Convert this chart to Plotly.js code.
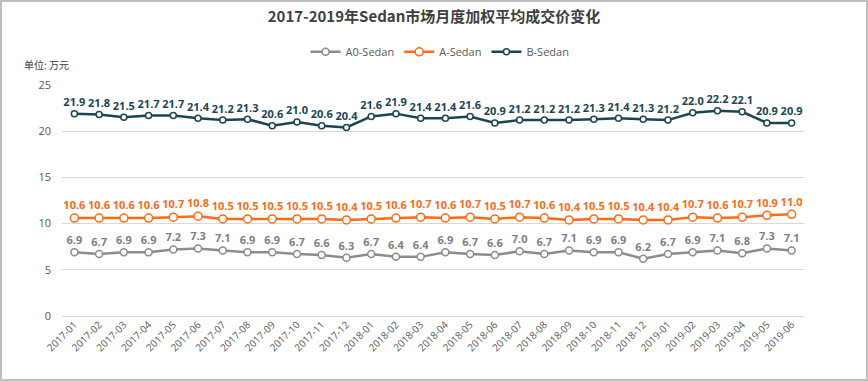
<!DOCTYPE html>
<html>
<head>
<meta charset="utf-8">
<script src="https://cdn.plot.ly/plotly-3.0.1.min.js"></script>
<style>
  html, body { margin: 0; padding: 0; background: #fff; }
  #wrap { position: relative; width: 868px; height: 381px; }
  #chart { width: 868px; height: 381px; }
  #frame { position: absolute; left: 0; top: 0; width: 868px; height: 381px; box-sizing: border-box; border: 2px solid #bfbfbf; pointer-events: none; }
</style>
</head>
<body>
<div id="wrap"><div id="chart"></div><div id="frame"></div></div>
<script>
const months = ["2017-01","2017-02","2017-03","2017-04","2017-05","2017-06","2017-07","2017-08","2017-09","2017-10","2017-11","2017-12",
  "2018-01","2018-02","2018-03","2018-04","2018-05","2018-06","2018-07","2018-08","2018-09","2018-10","2018-11","2018-12",
  "2019-01","2019-02","2019-03","2019-04","2019-05","2019-06"];
const a0Sedan = [6.9,6.7,6.9,6.9,7.2,7.3,7.1,6.9,6.9,6.7,6.6,6.3,6.7,6.4,6.4,6.9,6.7,6.6,7.0,6.7,7.1,6.9,6.9,6.2,6.7,6.9,7.1,6.8,7.3,7.1];
const aSedan = [10.6,10.6,10.6,10.6,10.7,10.8,10.5,10.5,10.5,10.5,10.5,10.4,10.5,10.6,10.7,10.6,10.7,10.5,10.7,10.6,10.4,10.5,10.5,10.4,10.4,10.7,10.6,10.7,10.9,11.0];
const bSedan = [21.9,21.8,21.5,21.7,21.7,21.4,21.2,21.3,20.6,21.0,20.6,20.4,21.6,21.9,21.4,21.4,21.6,20.9,21.2,21.2,21.2,21.3,21.4,21.3,21.2,22.0,22.2,22.1,20.9,20.9];
const yTicks = [0,5,10,15,20,25];

const numFont = "Open Sans, Noto Sans, sans-serif";
function series(name, y, color, labelColor, msize) {
  return {
    type: 'scatter', mode: 'lines+markers+text', name: name,
    x: months, y: y,
    line: {color: color, width: 2.5},
    marker: {symbol: 'circle', size: msize, color: '#ffffff', line: {color: color, width: 1.5}},
    texttemplate: '%{y:.1f}', textposition: 'top center',
    textfont: {family: numFont, size: 11, color: labelColor, weight: 'bold'},
    cliponaxis: false, hoverinfo: 'x+y'
  };
}
const data = [
  series('A0-Sedan', a0Sedan, '#8c8c8c', '#7f7f7f', 7),
  series('A-Sedan', aSedan, '#ff6a13', '#ff6a13', 8),
  series('B-Sedan', bSedan, '#1b4553', '#1b4553', 6)
];
const layout = {
  width: 868, height: 381,
  margin: {l: 62, r: 64, t: 85, b: 65},
  paper_bgcolor: '#ffffff', plot_bgcolor: '#ffffff',
  font: {family: "Noto Sans CJK SC, sans-serif", color: '#595959'},
  title: {text: '2017-2019年Sedan市场月度加权平均成交价变化', x: 0.5, xref: 'container', xanchor: 'center',
    y: 0.955, yref: 'container', yanchor: 'middle',
    font: {family: "Noto Sans CJK SC, sans-serif", size: 15, color: '#404040', weight: 'bold'}},
  showlegend: true,
  legend: {orientation: 'h', xref: 'container', yref: 'container', x: 0.507, xanchor: 'center', y: 0.864, yanchor: 'middle',
    font: {family: numFont, size: 11, color: '#595959'}, itemwidth: 30, traceorder: 'normal'},
  xaxis: {type: 'category', range: [-0.5, 29.5], showgrid: false, zeroline: false, showline: false,
    tickangle: -45, tickfont: {family: numFont, size: 10, color: '#595959'}, ticks: '', fixedrange: true},
  yaxis: {range: [0, 25], tickvals: yTicks, ticktext: yTicks.map(String), showgrid: true, gridcolor: '#d9d9d9', gridwidth: 1,
    zeroline: true, zerolinecolor: '#d9d9d9', zerolinewidth: 1, showline: false, ticks: '',
    tickfont: {family: numFont, size: 11, color: '#595959'}, ticklabelstandoff: 10, fixedrange: true},
  annotations: [{text: '单位: 万元', xref: 'paper', yref: 'paper', x: 0, y: 1, xanchor: 'left', yanchor: 'middle',
    xshift: -40, yshift: 21, showarrow: false, font: {family: "Noto Sans CJK SC, sans-serif", size: 10, color: '#404040'}}]
};
Plotly.newPlot('chart', data, layout, {displayModeBar: false, staticPlot: true});
</script>
</body>
</html>
